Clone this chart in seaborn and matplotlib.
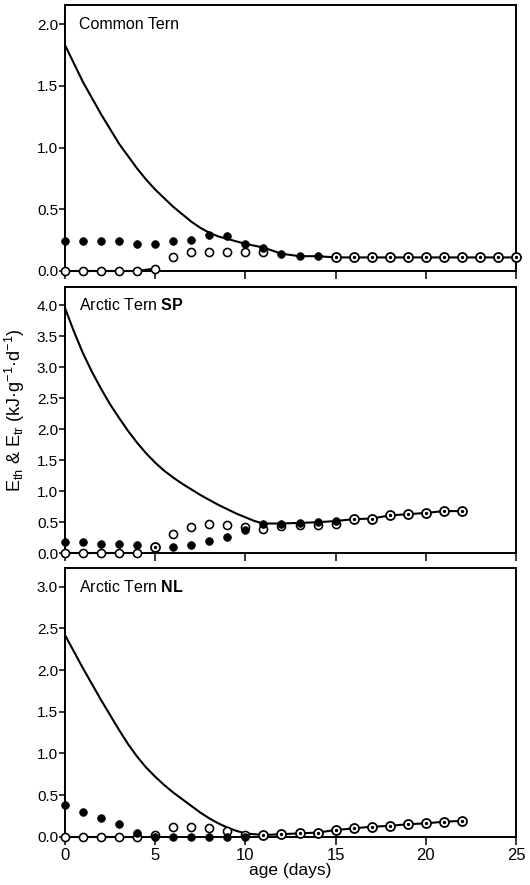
import numpy as np
import pandas as pd
import matplotlib
matplotlib.use("Agg")
import matplotlib.pyplot as plt
import seaborn as sns

nan = np.nan

# ---- Common Tern ----
ct_curve_days = [0, 0.5, 1, 1.5, 2, 2.5, 3, 3.5, 4, 4.5, 5, 5.5, 6, 6.5, 7, 7.5, 8,
                 8.5, 9, 9.5, 10, 10.5, 11]
ct_curve = [1.83, 1.68, 1.53, 1.40, 1.27, 1.15, 1.03, 0.93, 0.83, 0.74, 0.66, 0.59,
            0.52, 0.46, 0.40, 0.35, 0.31, 0.28, 0.26, 0.24, 0.22, 0.205, 0.19]
ct_filled = [0.24, 0.24, 0.24, 0.24, 0.22, 0.22, 0.24, 0.25, 0.29, 0.28, 0.22, 0.19,
             0.14, 0.12, 0.12]
ct_open = [0.0, 0.0, 0.0, 0.0, 0.0, 0.02, 0.11, 0.15, 0.15, 0.15, 0.15, 0.15]
ct_both_days = [15, 16, 17, 18, 19, 20, 21, 22, 23, 24, 25]
ct_both = [0.11, 0.11, 0.11, 0.11, 0.11, 0.11, 0.11, 0.11, 0.11, 0.11, 0.11]

# ---- Arctic Tern SP ----
sp_curve_days = ct_curve_days
sp_curve = [3.95, 3.57, 3.22, 2.92, 2.65, 2.40, 2.18, 1.97, 1.78, 1.61, 1.46, 1.33,
            1.22, 1.12, 1.03, 0.94, 0.86, 0.78, 0.71, 0.64, 0.58, 0.52, 0.48]
sp_filled = [0.19, 0.19, 0.15, 0.15, 0.14, nan, 0.10, 0.14, 0.20, 0.27, 0.37, 0.47,
             0.48, 0.49, 0.50, 0.52]
sp_open = [0.0, 0.0, 0.0, 0.0, 0.0, nan, 0.31, 0.42, 0.47, 0.45, 0.43, 0.39,
           0.44, 0.45, 0.46, 0.48]
sp_both_days = [5, 16, 17, 18, 19, 20, 21, 22]
sp_both = [0.10, 0.55, 0.56, 0.61, 0.63, 0.65, 0.68, 0.68]

# ---- Arctic Tern NL ----
nl_curve_days = ct_curve_days
nl_curve = [2.42, 2.22, 2.02, 1.83, 1.64, 1.46, 1.28, 1.11, 0.96, 0.83, 0.72, 0.62,
            0.53, 0.45, 0.37, 0.29, 0.22, 0.16, 0.11, 0.07, 0.04, 0.03, 0.02]
nl_filled = [0.38, 0.30, 0.23, 0.15, 0.05, 0.0, 0.0, 0.0, 0.0, 0.0, 0.0]
nl_open = [0.0, 0.0, 0.0, 0.0, 0.0, 0.02, 0.12, 0.12, 0.10, 0.07, 0.02]
nl_both_days = [11, 12, 13, 14, 15, 16, 17, 18, 19, 20, 21, 22]
nl_both = [0.02, 0.03, 0.04, 0.05, 0.08, 0.10, 0.12, 0.13, 0.15, 0.16, 0.18, 0.19]

titles = ["Common Tern", r"Arctic Tern $\mathbf{SP}$", r"Arctic Tern $\mathbf{NL}$"]
x_ticks = [0, 5, 10, 15, 20, 25]
ct_yticks = [0.0, 0.5, 1.0, 1.5, 2.0]
sp_yticks = [0.0, 0.5, 1.0, 1.5, 2.0, 2.5, 3.0, 3.5, 4.0]
nl_yticks = [0.0, 0.5, 1.0, 1.5, 2.0, 2.5, 3.0]

sns.set_theme(style="ticks")
plt.rcParams["font.family"] = ["Liberation Sans", "DejaVu Sans"]
plt.rcParams["mathtext.fontset"] = "custom"
plt.rcParams["mathtext.rm"] = "Liberation Sans"
plt.rcParams["mathtext.it"] = "Liberation Sans:italic"
plt.rcParams["mathtext.bf"] = "Liberation Sans:bold"

fig = plt.figure(figsize=(5.3, 8.85), dpi=100)
W, H = 530.0, 885.0
left, right = 65.0, 516.0
panel_px = [(5.0, 271.0), (287.0, 553.3), (568.0, 836.7)]
ylims = [(0, 2.155), (0, 4.29), (0, 3.225)]


def panel_axes(top, bottom):
    return fig.add_axes([left / W, 1 - bottom / H, (right - left) / W, (bottom - top) / H])


def draw(ax, curve_days, curve, filled, open_, both_days, both, n_base):
    last = curve_days[-1]
    f = pd.DataFrame({"day": np.arange(len(filled)), "val": filled}).dropna()
    o = pd.DataFrame({"day": np.arange(len(open_)), "val": open_}).dropna()
    b = pd.DataFrame({"day": both_days, "val": both})

    # continuous line: model curve, then the measured points beyond it
    tail = pd.concat([f[f.day > last], b[b.day > last]]).sort_values("day")
    line = pd.concat([pd.DataFrame({"day": curve_days, "val": curve}), tail])
    sns.lineplot(data=line, x="day", y="val", ax=ax, color="black", lw=1.5,
                 sort=False, zorder=2)
    # baseline joining the first open circles
    sns.lineplot(data=o.iloc[:n_base], x="day", y="val", ax=ax, color="black",
                 lw=1.5, sort=False, zorder=2, clip_on=False)

    sns.scatterplot(data=o, x="day", y="val", ax=ax, marker="o", s=34,
                    color="white", edgecolor="black", linewidth=1.15,
                    zorder=3, clip_on=False)
    sns.scatterplot(data=f, x="day", y="val", ax=ax, marker="o", s=30,
                    color="black", edgecolor="black", linewidth=0.6,
                    zorder=4, clip_on=False)
    sns.scatterplot(data=b, x="day", y="val", ax=ax, marker="o", s=42,
                    color="white", edgecolor="black", linewidth=1.3,
                    zorder=5, clip_on=False)
    sns.scatterplot(data=b, x="day", y="val", ax=ax, marker="o", s=6,
                    color="black", linewidth=0, zorder=6, clip_on=False)


data = [
    (ct_curve_days, ct_curve, ct_filled, ct_open, ct_both_days, ct_both, 6, ct_yticks),
    (sp_curve_days, sp_curve, sp_filled, sp_open, sp_both_days, sp_both, 5, sp_yticks),
    (nl_curve_days, nl_curve, nl_filled, nl_open, nl_both_days, nl_both, 5, nl_yticks),
]

axes = []
for i, (cd, curve, filled, open_, bd, bv, nb, yt) in enumerate(data):
    ax = panel_axes(*panel_px[i])
    draw(ax, cd, curve, filled, open_, bd, bv, nb)
    ax.set_xlim(0, 25)
    ax.set_ylim(*ylims[i])
    ax.set_xticks(x_ticks)
    ax.set_yticks(yt)
    ax.set_yticklabels([f"{v:.1f}" for v in yt])
    ax.set_xlabel("")
    ax.set_ylabel("")
    for s in ax.spines.values():
        s.set_visible(True)
        s.set_linewidth(1.4)
        s.set_color("black")
    ax.tick_params(axis="y", direction="out", length=4, width=1.1,
                   labelsize=11, colors="black", pad=1)
    ax.tick_params(axis="x", direction="out", length=6, width=1.1,
                   labelsize=12, colors="black", pad=2)
    ax.text(0.75, yt[-1], titles[i], ha="left", va="center", fontsize=11.5,
            color="black")
    if i < 2:
        ax.tick_params(axis="x", labelbottom=False)
    axes.append(ax)

axes[2].set_xlabel("age (days)", fontsize=12.5, color="black", labelpad=0)
fig.text(15 / W, 1 - 410 / H,
         r"E$_{\mathrm{th}}$ & E$_{\mathrm{tr}}$ (kJ·g$^{\mathrm{-1}}$·d$^{\mathrm{-1}}$)",
         rotation=90, ha="center", va="center", fontsize=13, color="black")

fig.savefig("out.png", dpi=100, facecolor="white")
